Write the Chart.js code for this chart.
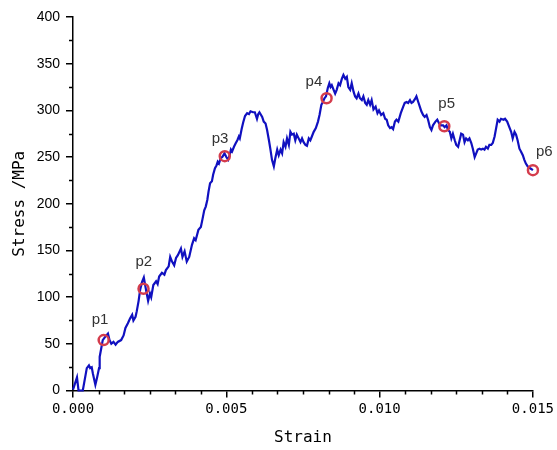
<!DOCTYPE html>
<html>
<head>
<meta charset="utf-8">
<script src="https://cdn.jsdelivr.net/npm/chart.js@4"></script>
<style>
    html, body { margin: 0; padding: 0; background: #fff; }
</style>
</head>
<body>
<canvas id="bieuDoUngSuat" width="557" height="450"></canvas>
<script>
// Strain values (x 0.001) and stress (MPa)
const strainMilli = [0, 0.13, 0.18, 0.32, 0.45, 0.52, 0.56, 0.61, 0.65, 0.73, 0.78, 0.85, 0.87, 0.92, 0.97, 1.06, 1.14, 1.19, 1.25, 1.32,
    1.39, 1.46, 1.57, 1.65, 1.71, 1.79, 1.86, 1.93, 1.97, 2.04, 2.08, 2.14, 2.19, 2.25, 2.31, 2.38, 2.45, 2.51, 2.55, 2.62,
    2.71, 2.76, 2.81, 2.9, 2.98, 3.03, 3.12, 3.17, 3.23, 3.3, 3.36, 3.42, 3.52, 3.57, 3.64, 3.71, 3.79, 3.88, 3.95, 4.0,
    4.09, 4.17, 4.22, 4.28, 4.33, 4.38, 4.42, 4.47, 4.53, 4.57, 4.63, 4.68, 4.72, 4.76, 4.82, 4.87, 4.94, 5.0, 5.06, 5.11,
    5.15, 5.19, 5.25, 5.31, 5.36, 5.41, 5.44, 5.5, 5.55, 5.61, 5.68, 5.74, 5.79, 5.87, 5.93, 6.0, 6.04, 6.08, 6.17, 6.22,
    6.28, 6.33, 6.39, 6.44, 6.49, 6.55, 6.6, 6.66, 6.71, 6.77, 6.82, 6.87, 6.93, 6.98, 7.04, 7.09, 7.14, 7.2, 7.25, 7.3,
    7.36, 7.42, 7.47, 7.52, 7.58, 7.63, 7.69, 7.74, 7.79, 7.85, 7.92, 7.99, 8.04, 8.1, 8.15, 8.2, 8.25, 8.31, 8.36, 8.4,
    8.44, 8.5, 8.55, 8.6, 8.66, 8.71, 8.77, 8.82, 8.88, 8.93, 8.98, 9.04, 9.09, 9.15, 9.2, 9.25, 9.31, 9.36, 9.42, 9.47,
    9.53, 9.58, 9.63, 9.69, 9.74, 9.8, 9.87, 9.93, 9.98, 10.05, 10.12, 10.18, 10.23, 10.28, 10.34, 10.39, 10.44, 10.5, 10.55, 10.61,
    10.69, 10.77, 10.82, 10.88, 10.93, 10.99, 11.04, 11.09, 11.15, 11.2, 11.26, 11.31, 11.36, 11.42, 11.47, 11.53, 11.58, 11.64, 11.69, 11.74,
    11.82, 11.88, 11.94, 11.99, 12.07, 12.12, 12.18, 12.23, 12.29, 12.34, 12.39, 12.45, 12.5, 12.56, 12.61, 12.66, 12.72, 12.77, 12.82, 12.88,
    12.93, 12.99, 13.04, 13.1, 13.15, 13.2, 13.26, 13.31, 13.37, 13.42, 13.47, 13.53, 13.58, 13.64, 13.69, 13.75, 13.8, 13.85, 13.91, 13.96,
    14.04, 14.09, 14.16, 14.23, 14.29, 14.34, 14.4, 14.45, 14.5, 14.56, 14.61, 14.67, 14.72, 14.77, 14.83, 14.91, 15.0];
const stress = [1, 14, 0, 0, 24, 27, 24, 25, 18, 6, 13, 24, 36, 45, 54, 58, 61, 54, 50, 52,
    49, 52, 54, 59, 67, 72, 77, 81, 75, 79, 85, 96, 108, 116, 121, 108, 96, 104, 100, 113,
    117, 114, 122, 126, 124, 129, 133, 143, 138, 134, 142, 145, 152, 143, 149, 138, 143, 156, 163, 161,
    172, 175, 183, 193, 197, 204, 213, 222, 224, 231, 238, 241, 245, 243, 249, 250, 254, 250, 247, 252,
    258, 256, 261, 265, 268, 272, 270, 280, 287, 294, 297, 296, 299, 298, 298, 291, 296, 298, 293, 288,
    286, 279, 268, 258, 247, 240, 249, 258, 252, 258, 254, 266, 261, 270, 263, 277, 274, 275, 268, 274,
    270, 266, 270, 266, 263, 262, 270, 268, 272, 277, 281, 288, 295, 306, 309, 313, 315, 324, 329, 325,
    327, 322, 318, 322, 329, 327, 334, 338, 334, 336, 325, 322, 329, 320, 315, 313, 318, 313, 311, 315,
    308, 306, 311, 306, 311, 301, 304, 297, 300, 295, 297, 291, 290, 284, 281, 282, 280, 288, 290, 288,
    297, 304, 308, 309, 308, 311, 308, 309, 312, 315, 309, 304, 299, 295, 293, 295, 290, 282, 279, 284,
    288, 290, 286, 284, 284, 282, 284, 279, 277, 270, 275, 268, 263, 261, 268, 275, 274, 266, 270, 268,
    270, 265, 259, 250, 254, 258, 259, 258, 259, 258, 261, 259, 263, 263, 265, 272, 281, 290, 288, 291,
    290, 291, 288, 282, 277, 270, 277, 274, 268, 259, 256, 252, 247, 243, 240, 238, 236];

// Marked points p1..p6
const pointNames = ['p1', 'p2', 'p3', 'p4', 'p5', 'p6'];
const pointStrainMilli = [1.0, 2.3, 4.95, 8.27, 12.11, 15.0];
const pointStress = [54, 109, 251, 313, 283, 236];

const xTicks = [0, 0.005, 0.010, 0.015];

// pixel offsets of the labels from their markers
const labelOffsets = [[-12, -16], [-8, -23], [-13, -13], [-21, -12], [-6, -18], [3, -14]];

const duongCong = strainMilli.map((s, i) => ({ x: s / 1000, y: stress[i] }));
const diemDanhDau = pointStrainMilli.map((s, i) => ({ x: s / 1000, y: pointStress[i] }));

// vạch chia phụ + nhãn p1..p6
const phuTro = {
    id: 'phuTro',
    afterDraw(chart) {
        const ctx = chart.ctx;
        const x = chart.scales.x;
        const y = chart.scales.y;
        ctx.save();
        ctx.strokeStyle = '#000';
        ctx.lineWidth = 1.5;
        ctx.beginPath();
        for (let i = 1; i < 18; i++) {
            if (i % 6 === 0) continue;
            const px = Math.round(x.getPixelForValue(i * 0.005 / 6)) + 0.5;
            ctx.moveTo(px, y.bottom);
            ctx.lineTo(px, y.bottom + 4);
        }
        for (let v = 25; v < 400; v += 50) {
            const py = Math.round(y.getPixelForValue(v)) + 0.5;
            ctx.moveTo(x.left, py);
            ctx.lineTo(x.left - 4, py);
        }
        ctx.stroke();

        ctx.fillStyle = '#333';
        ctx.font = '15px "Liberation Sans", Arial, sans-serif';
        ctx.textBaseline = 'alphabetic';
        ctx.textAlign = 'left';
        diemDanhDau.forEach((d, i) => {
            const px = x.getPixelForValue(d.x);
            const py = y.getPixelForValue(d.y);
            ctx.fillText(pointNames[i], px + labelOffsets[i][0], py + labelOffsets[i][1]);
        });
        ctx.restore();
    }
};

const ctx = document.getElementById('bieuDoUngSuat').getContext('2d');
new Chart(ctx, {
    type: 'line',
    data: {
        datasets: [
            {
                data: diemDanhDau,
                showLine: false,
                pointRadius: 5,
                pointBorderWidth: 2.5,
                pointBorderColor: '#d43c4c',
                pointBackgroundColor: 'rgba(0,0,0,0)',
                clip: false,
                order: 0
            },
            {
                data: duongCong,
                borderColor: '#1010c0',
                borderWidth: 2.2,
                pointRadius: 0,
                tension: 0,
                fill: false,
                clip: 4,
                order: 1
            }
        ]
    },
    options: {
        responsive: false,
        animation: false,
        layout: { padding: { left: 0, right: 21, top: 17, bottom: 0 } },
        plugins: {
            legend: { display: false },
            tooltip: { enabled: false }
        },
        scales: {
            x: {
                type: 'linear',
                min: 0,
                max: 0.015,
                afterBuildTicks(scale) {
                    scale.ticks = xTicks.map(v => ({ value: v }));
                },
                afterFit(scale) { scale.height = 59.5; },
                ticks: {
                    color: '#000',
                    padding: 3,
                    maxRotation: 0,
                    font: { family: '"DejaVu Sans Mono", monospace', size: 14 },
                    callback: v => v.toFixed(3)
                },
                grid: { drawOnChartArea: false, drawTicks: true, tickLength: 7, color: '#000', lineWidth: 1.5 },
                border: { display: true, color: '#000', width: 1.5 },
                title: {
                    display: true,
                    text: 'Strain',
                    color: '#000',
                    padding: { top: 0, bottom: 3 },
                    font: { family: '"DejaVu Sans Mono", monospace', size: 16 }
                }
            },
            y: {
                min: 0,
                max: 400,
                afterFit(scale) { scale.width = 73; },
                ticks: {
                    stepSize: 50,
                    color: '#000',
                    padding: 6,
                    font: { family: '"Liberation Sans", Arial, sans-serif', size: 14 }
                },
                grid: { drawOnChartArea: false, drawTicks: true, tickLength: 7, color: '#000', lineWidth: 1.5 },
                border: { display: true, color: '#000', width: 1.5 },
                title: {
                    display: true,
                    text: 'Stress /MPa',
                    color: '#000',
                    padding: { top: 10, bottom: 0 },
                    font: { family: '"DejaVu Sans Mono", monospace', size: 16 }
                }
            }
        }
    },
    plugins: [phuTro]
});
</script>
</body>
</html>
